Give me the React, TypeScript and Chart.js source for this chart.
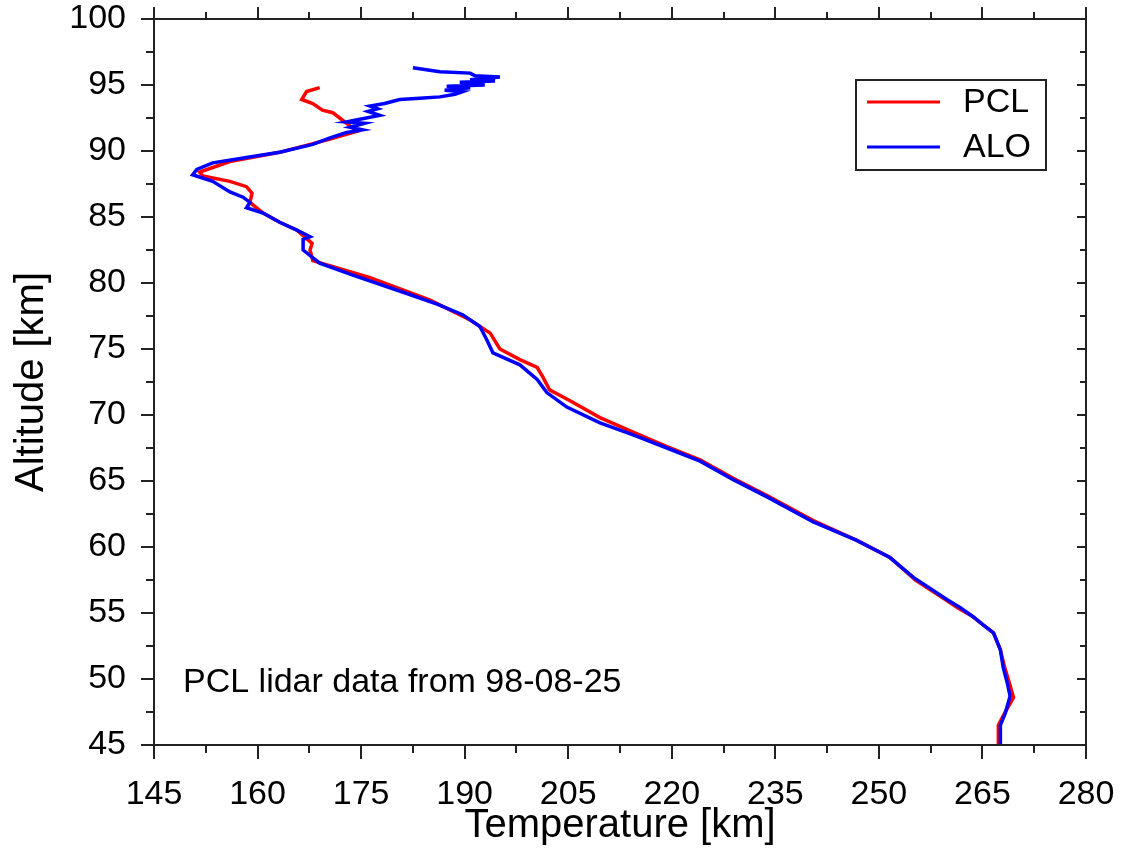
import React, { useEffect, useRef } from "react";
import { Chart, registerables } from "chart.js";

Chart.register(...registerables);

const xTickMin = 145;
const xTickMax = 280;
const xTickStep = 15;
const yTickMin = 45;
const yTickMax = 100;
const yTickStep = 5;

const pclAlt = [
  45.0, 46.5, 47.4, 48.6, 49.7, 50.9, 52.2, 53.5, 54.1, 54.8,
  55.4, 56.1, 57.5, 59.2, 60.5, 62.0, 63.9, 65.2, 66.6, 67.6,
  68.7, 69.8, 71.1, 71.9, 72.9, 73.6, 74.2, 75.0, 76.2, 77.2,
  78.7, 80.4, 81.7, 82.5, 83.0, 84.0, 84.6, 85.3, 86.1, 86.8,
  87.3, 87.7, 88.1, 88.4, 89.2, 89.9, 90.9, 91.5, 92.1, 92.5,
  92.9, 93.1, 93.6, 93.9, 94.5, 94.8,
];
const pclTemp = [
  267.3, 267.3, 268.2, 269.5, 268.9, 268.2, 267.6, 266.6, 265.1, 263.4,
  261.4, 259.4, 255.3, 251.6, 246.8, 240.5, 233.8, 228.9, 224.1, 219.3,
  214.4, 209.6, 205.2, 202.3, 201.3, 200.5, 198.0, 195.1, 193.7, 190.8,
  185.0, 176.3, 168.0, 167.6, 167.9, 165.7, 163.2, 160.8, 158.9, 159.2,
  158.4, 156.0, 152.1, 151.6, 156.0, 163.2, 170.5, 174.4, 172.9, 171.9,
  170.9, 169.4, 168.0, 166.4, 167.1, 169.0,
];

const aloAlt = [
  45.0, 46.5, 47.4, 48.7, 49.7, 50.9, 52.2, 53.5, 54.1, 54.7,
  55.4, 56.0, 57.7, 59.2, 60.5, 61.9, 63.8, 65.1, 66.5, 67.5,
  68.5, 69.4, 70.6, 71.7, 72.7, 73.8, 74.7, 75.7, 76.7, 77.6,
  78.4, 79.3, 80.6, 81.5, 82.5, 83.3, 83.5, 84.0, 84.6, 85.3,
  85.7, 86.1, 86.5, 86.9, 87.7, 88.2, 88.6, 89.1, 89.5, 89.9,
  90.5, 91.0, 91.4, 91.6, 91.8, 92.1, 92.2, 92.4, 92.7, 93.0,
  93.2, 93.4, 93.6, 93.9, 94.0, 94.1, 94.3, 94.5, 94.6, 94.8,
  94.9, 95.0, 95.2, 95.3, 95.4, 95.6, 95.7, 95.9, 96.0, 96.3,
];
const aloTemp = [
  267.6, 267.6, 268.3, 269.0, 268.6, 268.0, 267.6, 266.6, 265.1, 263.7,
  261.8, 259.9, 255.0, 251.6, 246.8, 240.5, 233.8, 228.9, 224.1, 219.3,
  214.4, 209.6, 204.8, 201.9, 200.5, 198.0, 194.1, 193.2, 192.2, 189.7,
  186.0, 181.1, 173.8, 169.0, 166.6, 166.6, 167.6, 165.7, 163.2, 160.8,
  158.4, 158.9, 157.9, 156.0, 153.5, 150.6, 151.2, 153.5, 158.4, 163.2,
  168.0, 170.5, 172.9, 175.2, 173.4, 175.5, 172.9, 174.8, 177.7, 176.0,
  177.4, 176.3, 178.4, 180.6, 183.5, 186.4, 188.6, 189.7, 187.1, 190.8,
  187.4, 192.9, 189.3, 194.4, 190.8, 195.1, 191.5, 190.8, 186.4, 182.5,
];

const seriesNames = ["PCL", "ALO"];
const seriesColors = ["#ff0000", "#0000ff"];
const noteText = "PCL lidar data from 98-08-25";
const xTitle = "Temperature [km]";
const yTitle = "Altitude [km]";

const FONT = "'Liberation Sans', Arial, sans-serif";

const framePlugin = {
  id: "frameTicks",
  afterDraw(chart: any) {
    const { ctx, chartArea } = chart;
    const xs = chart.scales.x;
    const ys = chart.scales.y;
    const { left, right, top, bottom } = chartArea;
    ctx.save();
    ctx.strokeStyle = "#222";
    ctx.lineWidth = 2;
    ctx.strokeRect(left, top, right - left, bottom - top);
    ctx.beginPath();
    for (let v = xTickMin; v <= xTickMax + 1e-6; v += xTickStep / 2) {
      const px = Math.round(xs.getPixelForValue(v));
      const major = Math.abs(((v - xTickMin) / xTickStep) - Math.round((v - xTickMin) / xTickStep)) < 1e-6;
      ctx.moveTo(px, bottom);
      ctx.lineTo(px, bottom + (major ? 14 : 8));
      ctx.moveTo(px, top);
      ctx.lineTo(px, top - (major ? 12 : 7));
    }
    for (let v = yTickMin; v <= yTickMax + 1e-6; v += yTickStep / 2) {
      const py = Math.round(ys.getPixelForValue(v));
      const major = Math.abs(((v - yTickMin) / yTickStep) - Math.round((v - yTickMin) / yTickStep)) < 1e-6;
      ctx.moveTo(left, py);
      ctx.lineTo(left - (major ? 13 : 8), py);
      ctx.moveTo(right, py);
      ctx.lineTo(right - (major ? 9 : 6), py);
    }
    ctx.stroke();

    // legend box
    const lx = right - 230;
    const ly = top + 61;
    const lw = 190;
    const lh = 90;
    ctx.fillStyle = "#fff";
    ctx.fillRect(lx, ly, lw, lh);
    ctx.strokeStyle = "#222";
    ctx.lineWidth = 2;
    ctx.strokeRect(lx, ly, lw, lh);
    ctx.font = `34px ${FONT}`;
    ctx.textBaseline = "middle";
    ctx.textAlign = "left";
    seriesNames.forEach((name, i) => {
      const yy = ly + 22 + i * 45;
      ctx.strokeStyle = seriesColors[i];
      ctx.lineWidth = 3;
      ctx.beginPath();
      ctx.moveTo(lx + 11, yy);
      ctx.lineTo(lx + 84, yy);
      ctx.stroke();
      ctx.fillStyle = "#000";
      ctx.fillText(name, lx + 107, yy + 1);
    });

    // note
    ctx.font = `34px ${FONT}`;
    ctx.fillStyle = "#000";
    ctx.textBaseline = "middle";
    ctx.fillText(noteText, left + 29, ys.getPixelForValue(49.75));
    ctx.restore();
  },
};

export default function App() {
  const ref = useRef<HTMLCanvasElement | null>(null);
  useEffect(() => {
    document.body.style.margin = "0";
    const canvas = ref.current;
    if (!canvas) return;
    const chart = new Chart(canvas, {
      type: "scatter",
      data: {
        datasets: [
          {
            label: seriesNames[0],
            data: pclTemp.map((t, i) => ({ x: t, y: pclAlt[i] })),
            borderColor: seriesColors[0],
            backgroundColor: seriesColors[0],
            showLine: true,
            pointRadius: 0,
            borderWidth: 3.5,
            order: 2,
          },
          {
            label: seriesNames[1],
            data: aloTemp.map((t, i) => ({ x: t, y: aloAlt[i] })),
            borderColor: seriesColors[1],
            backgroundColor: seriesColors[1],
            showLine: true,
            pointRadius: 0,
            borderWidth: 3.5,
            order: 1,
          },
        ],
      },
      options: {
        responsive: false,
        animation: false,
        layout: { padding: { top: 19, right: 40, left: 0, bottom: 0 } },
        plugins: {
          legend: { display: false },
          tooltip: { enabled: false },
        },
        scales: {
          x: {
            type: "linear",
            min: xTickMin,
            max: xTickMax,
            grid: { display: false, drawTicks: false },
            border: { display: false },
            ticks: {
              stepSize: xTickStep,
              color: "#000",
              font: { family: FONT, size: 34 },
              padding: 29,
              maxRotation: 0,
            },
            title: {
              display: true,
              text: xTitle,
              color: "#000",
              font: { family: FONT, size: 40, lineHeight: 1.0 },
              padding: { top: 0, bottom: 6 },
            },
            afterFit(scale: any) {
              scale.height = 107;
              scale.paddingLeft = 0;
              scale.paddingRight = 0;
            },
          },
          y: {
            type: "linear",
            min: yTickMin,
            max: yTickMax,
            grid: { display: false, drawTicks: false },
            border: { display: false },
            ticks: {
              stepSize: yTickStep,
              color: "#000",
              font: { family: FONT, size: 34 },
              padding: 28,
            },
            title: {
              display: true,
              text: yTitle,
              color: "#000",
              font: { family: FONT, size: 40, lineHeight: 1.0 },
              padding: { top: 12, bottom: 0 },
            },
            afterFit(scale: any) {
              scale.width = 154;
              scale.paddingTop = 0;
              scale.paddingBottom = 0;
            },
          },
        },
      },
      plugins: [framePlugin],
    });
    return () => chart.destroy();
  }, []);
  return <canvas ref={ref} width={1126} height={852} style={{ display: "block" }} />;
}
